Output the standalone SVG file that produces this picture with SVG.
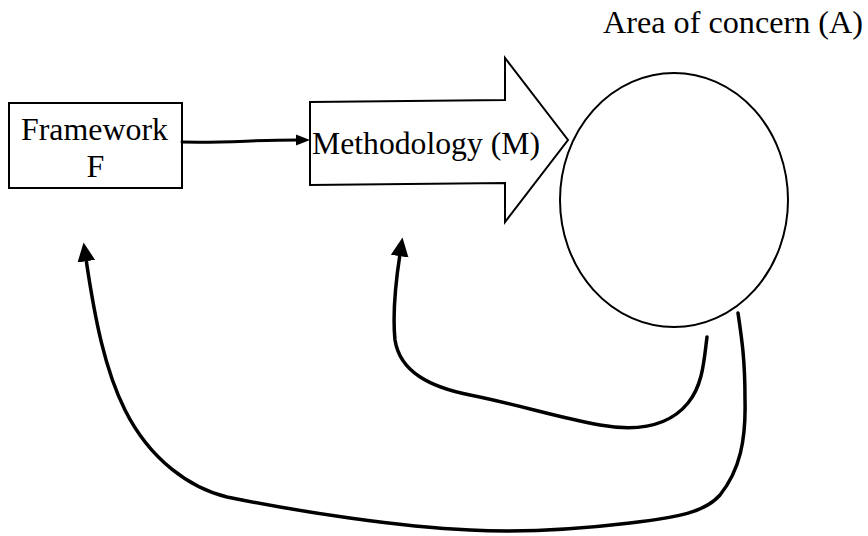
<svg xmlns="http://www.w3.org/2000/svg" width="868" height="536" viewBox="0 0 868 536">
  <style>
    .shape { fill: #ffffff; stroke: #000000; stroke-width: 2; stroke-linejoin: miter; }
    .label { font-family: "Liberation Serif", "Times New Roman", serif; font-size: 32px; fill: #000000; }
    .link { fill: none; stroke: #000000; stroke-width: 3.5; stroke-linecap: round; }
    .link-thin { fill: none; stroke: #000000; stroke-width: 3; stroke-linecap: round; }
  </style>
  <defs>
    <marker id="head" markerUnits="userSpaceOnUse" markerWidth="20" markerHeight="20" viewBox="0 -9 18 18" refX="2" refY="0" orient="auto">
      <path d="M0,-8 L17,0 L0,8 z" fill="#000000"/>
    </marker>
    <marker id="head-small" markerUnits="userSpaceOnUse" markerWidth="16" markerHeight="14" viewBox="0 -7 14 14" refX="2" refY="0" orient="auto">
      <path d="M0,-5.5 L14,0 L0,5.5 z" fill="#000000"/>
    </marker>
  </defs>

  <rect width="868" height="536" fill="#ffffff"/>

  <!-- Framework F -->
  <g id="framework">
    <rect class="shape" x="9" y="103" width="173" height="85"/>
    <text class="label" x="21" y="140" textLength="147" lengthAdjust="spacingAndGlyphs">Framework</text>
    <text class="label" x="95.5" y="177" text-anchor="middle">F</text>
  </g>

  <!-- Methodology (M) block arrow -->
  <g id="methodology">
    <polygon class="shape" points="310,102 505,100 505,58 568,140 505,222 505,183 310,185"/>
    <text class="label" x="312" y="154" textLength="228" lengthAdjust="spacingAndGlyphs">Methodology (M)</text>
  </g>

  <!-- Area of concern (A) -->
  <g id="area">
    <ellipse class="shape" cx="674" cy="200" rx="114" ry="127"/>
    <text class="label" x="603" y="33" textLength="260" lengthAdjust="spacingAndGlyphs">Area of concern (A)</text>
  </g>

  <g id="connectors">
    <!-- F to M -->
    <path class="link-thin" d="M182,142 C230,143 250,140 298,140" marker-end="url(#head-small)"/>
    <!-- A back to M -->
    <path class="link" d="M707,337 C704,360 703,385 688,403 C670,425 640,432 600,425 C560,418 520,405 470,395 C430,387 400,372 395,340 C392,310 396,280 400,254" marker-end="url(#head)"/>
    <!-- A back to F -->
    <path class="link" d="M738,313 C742,340 745,360 745,400 C746,440 740,470 720,495 C705,512 680,517 630,523 C580,529 530,533 470,530 C400,527 300,512 227,497 C190,488 150,460 125,410 C105,370 95,320 86,259" marker-end="url(#head)"/>
  </g>
</svg>
